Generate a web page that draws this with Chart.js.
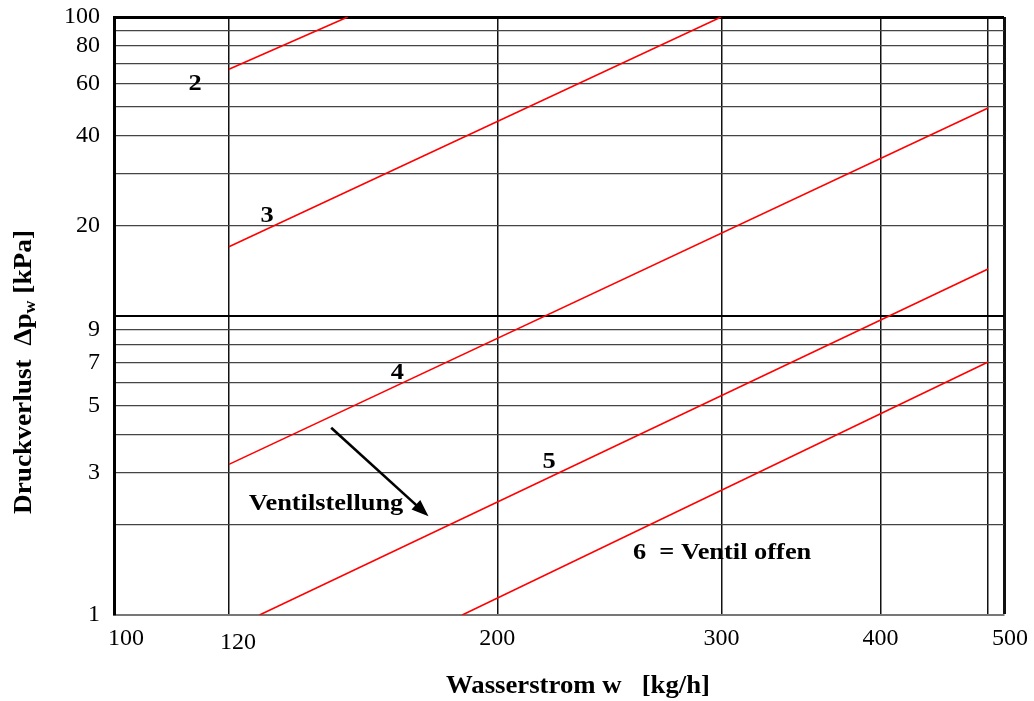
<!DOCTYPE html>
<html>
<head>
<meta charset="utf-8">
<script src="https://cdn.jsdelivr.net/npm/chart.js@4.4.1/dist/chart.umd.min.js"></script>
<style>
html,body{margin:0;padding:0;background:#fff;}
#wrap{width:1034px;height:701px;position:relative;}
</style>
</head>
<body>
<div id="wrap"><canvas id="c"></canvas></div>
<script>
// ---- Data ----
const valvePositions = ['2', '3', '4', '5', '6'];
const flow2 = [123.1, 152.6];  const dp2 = [66.9, 100];
const flow3 = [123.1, 299.8];  const dp3 = [17.05, 100];
const flow4 = [123.1, 485.8];  const dp4 = [3.19, 49.6];
const flow5 = [130.1, 485.8];  const dp5 = [1, 14.36];
const flow6 = [187.7, 485.8];  const dp6 = [1, 7.02];

const xGridValues = [100, 123.1, 200, 300, 400, 485.8, 500];
const xTickLabels = ['100', '120', '200', '300', '400', '', '500'];
const yGridValues = [1, 2, 3, 4, 5, 6, 7, 8, 9, 10, 20, 30, 40, 50, 60, 70, 80, 90, 100];
const yTickLabels = ['1', '', '3', '', '5', '', '7', '', '9', '', '20', '', '40', '', '60', '', '80', '', '100'];

const arrowFlow = [148.1, 176.6];
const arrowDp = [4.23, 2.14];

const noteTexts = ['2', '3', '4', '5', 'Ventilstellung', '6  = Ventil offen'];
const noteFlow = [115.8, 131.9, 166.9, 219.6, 127.6, 255.6];
const noteDp = [57.0, 20.6, 6.16, 3.10, 2.24, 1.54];

const xTitle = 'Wasserstrom w   [kg/h]';
const yTitleParts = ['Druckverlust  \u0394p', 'w', ' [kPa]'];

// ---- Styling ----
const SERIF = "'Liberation Serif', 'Times New Roman', serif";
const flows = [flow2, flow3, flow4, flow5, flow6];
const dps = [dp2, dp3, dp4, dp5, dp6];
// leading spaces nudge a few x labels the way the reference sets them
const xLabelLead = ['    ', '   ', '', '', '', '', '  '];

const datasets = valvePositions.map((name, k) => ({
  label: name,
  data: flows[k].map((w, i) => ({ x: w, y: dps[k][i] })),
  borderColor: '#ff0000',
  borderWidth: 1.6,
  pointRadius: 0,
  fill: false,
  tension: 0
}));

const notesAlign = ['center', 'center', 'center', 'center', 'left', 'left'];

const overlay = {
  id: 'overlay',
  afterDatasetsDraw(chart) {
    const { ctx, scales: { x, y } } = chart;
    ctx.save();
    ctx.fillStyle = '#000';
    ctx.font = 'bold 24px ' + SERIF;
    ctx.textBaseline = 'alphabetic';
    noteTexts.forEach((t, i) => {
      const px = x.getPixelForValue(noteFlow[i]);
      const py = y.getPixelForValue(noteDp[i]);
      ctx.save();
      ctx.translate(px, py);
      ctx.scale(1.1, 1);
      ctx.textAlign = notesAlign[i];
      ctx.fillText(t, 0, 0);
      ctx.restore();
    });
    const x0 = x.getPixelForValue(arrowFlow[0]), y0 = y.getPixelForValue(arrowDp[0]);
    const x1 = x.getPixelForValue(arrowFlow[1]), y1 = y.getPixelForValue(arrowDp[1]);
    const a = Math.atan2(y1 - y0, x1 - x0);
    const L = 17, W = 6.5;
    const bx = x1 - L * Math.cos(a), by = y1 - L * Math.sin(a);
    ctx.strokeStyle = '#000';
    ctx.lineWidth = 2.6;
    ctx.beginPath();
    ctx.moveTo(x0, y0);
    ctx.lineTo(bx + 2 * Math.cos(a), by + 2 * Math.sin(a));
    ctx.stroke();
    ctx.beginPath();
    ctx.moveTo(x1, y1);
    ctx.lineTo(bx - W * Math.sin(a), by + W * Math.cos(a));
    ctx.lineTo(bx + W * Math.sin(a), by - W * Math.cos(a));
    ctx.closePath();
    ctx.fill();
    ctx.restore();
  },
  afterDraw(chart) {
    const { ctx } = chart;
    ctx.save();
    ctx.fillStyle = '#000';
    ctx.textBaseline = 'alphabetic';
    ctx.save();
    ctx.translate(578, 693);
    ctx.scale(1.07, 1);
    ctx.font = 'bold 25px ' + SERIF;
    ctx.textAlign = 'center';
    ctx.fillText(xTitle, 0, 0);
    ctx.restore();
    ctx.save();
    ctx.translate(31, 372);
    ctx.rotate(-Math.PI / 2);
    ctx.scale(1.05, 1);
    ctx.textAlign = 'left';
    const big = 'bold 26px ' + SERIF, small = 'bold 17px ' + SERIF;
    ctx.font = big; const w1 = ctx.measureText(yTitleParts[0]).width;
    ctx.font = small; const w2 = ctx.measureText(yTitleParts[1]).width;
    ctx.font = big; const w3 = ctx.measureText(yTitleParts[2]).width;
    let sx = -(w1 + w2 + w3) / 2;
    ctx.font = big; ctx.fillText(yTitleParts[0], sx, 0); sx += w1;
    ctx.font = small; ctx.fillText(yTitleParts[1], sx, 4); sx += w2;
    ctx.font = big; ctx.fillText(yTitleParts[2], sx, 0);
    ctx.restore();
    ctx.restore();
  }
};

new Chart(document.getElementById('c'), {
  type: 'line',
  data: { datasets },
  options: {
    responsive: true,
    maintainAspectRatio: false,
    animation: false,
    layout: { padding: { top: 17, right: 30, bottom: 0, left: 0 } },
    plugins: { legend: { display: false }, tooltip: { enabled: false } },
    scales: {
      x: {
        type: 'logarithmic',
        min: 100,
        max: 500,
        afterBuildTicks: s => { s.ticks = xGridValues.map(v => ({ value: v })); },
        afterFit: s => { s.height = 86; s.paddingLeft = 0; s.paddingRight = 0; },
        ticks: {
          autoSkip: false,
          maxRotation: 0,
          minRotation: 0,
          padding: 9,
          color: '#000',
          font: c => ({ family: SERIF, size: 24, lineHeight: c.index === 1 ? 1.6 : 1.2 }),
          callback: (v, i) => xTickLabels[i] ? xLabelLead[i] + xTickLabels[i] : ''
        },
        grid: {
          drawTicks: false,
          color: c => c.index === 0 ? 'rgba(0,0,0,0)' : '#111',
          lineWidth: c => c.index === xGridValues.length - 1 ? 3 : 1.5
        },
        border: { display: true, color: '#777', width: 2 }
      },
      y: {
        type: 'logarithmic',
        min: 1,
        max: 100,
        afterBuildTicks: s => { s.ticks = yGridValues.map(v => ({ value: v })); },
        afterFit: s => { s.width = 114; s.paddingTop = 0; s.paddingBottom = 0; },
        ticks: {
          autoSkip: false,
          padding: 14,
          color: '#000',
          font: { family: SERIF, size: 24 },
          callback: (v, i) => yTickLabels[i]
        },
        grid: {
          drawTicks: false,
          color: c => {
            const v = yGridValues[c.index];
            if (v === 1) return 'rgba(0,0,0,0)';
            if (v === 10 || v === 100) return '#000';
            return '#444';
          },
          lineWidth: c => {
            const v = yGridValues[c.index];
            if (v === 100) return 3;
            if (v === 10) return 2;
            return 1.3;
          }
        },
        border: { display: true, color: '#000', width: 3 }
      }
    }
  },
  plugins: [overlay]
});
</script>
</body>
</html>
